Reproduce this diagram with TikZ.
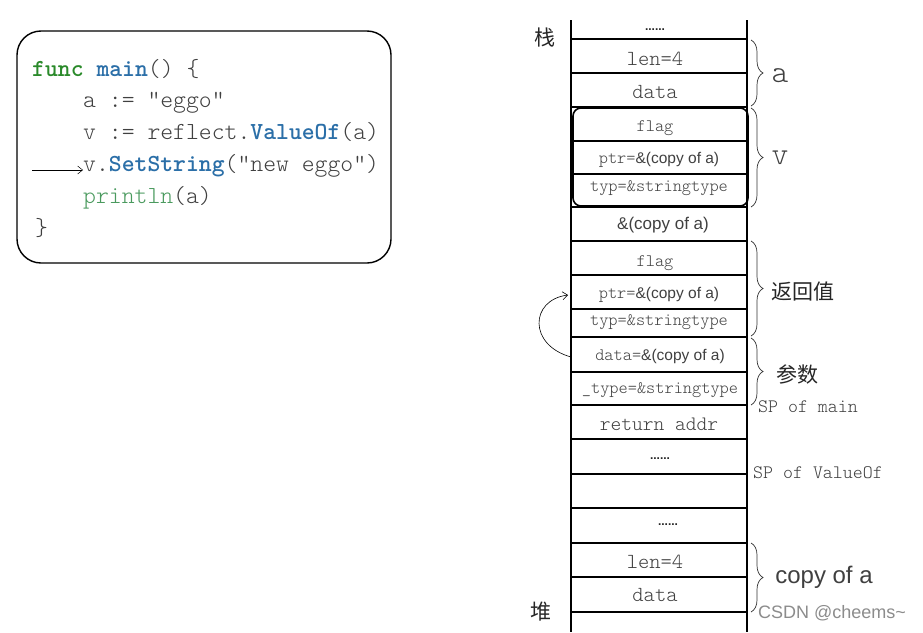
\documentclass[tikz,border=0pt]{standalone}
\usepackage{fontspec}
\setmonofont{Latin Modern Mono Light}
\setsansfont{Liberation Sans}
\newfontfamily\cjk{Noto Sans CJK SC}
\usetikzlibrary{decorations.pathreplacing,arrows.meta}
\definecolor{kwgreen}{HTML}{2A8A2A}
\definecolor{fnblue}{HTML}{2B6FA8}
\definecolor{pgreen}{HTML}{4A9A5E}
\definecolor{txt}{HTML}{404040}
\begin{document}
\begin{tikzpicture}[x=1pt,y=-1pt,
  codeline/.style={anchor=mid west,inner sep=0pt,font=\fontsize{24.5}{24.5}\ttfamily,text=txt},
  cell/.style={inner sep=0pt,text=txt},
  big/.style={font=\fontsize{21.5}{21.5}\ttfamily},
  small/.style={font=\fontsize{17.5}{17.5}\ttfamily},
  dots/.style={inner sep=0pt,font=\bfseries\fontsize{12}{12}\sffamily,text=black!85},
  rbrace/.style={decorate,decoration={brace,amplitude=12pt,raise=1pt},line width=0.7pt,draw=black!80},
  side/.style={inner sep=0pt,text=txt},
  arr/.style={-{Straight Barb[length=5pt,width=8pt]},line width=0.6pt}
]
\useasboundingbox (0,0) rectangle (923,632);
\fill[white] (0,0) rectangle (923,632);
% code box
\draw[line width=1.4pt,rounded corners=24pt] (17,31) rectangle (391,263);
\node[codeline] (c1) at (32,74) {\textbf{\textcolor{kwgreen}{func}} \textbf{\textcolor{fnblue}{main}}() \{};
\node[codeline] (c2) at (83,105) {a := "eggo"};
\node[codeline] (c3) at (83,137) {v := reflect.\textbf{\textcolor{fnblue}{ValueOf}}(a)};
\node[codeline] (c4) at (83,169) {v.\textbf{\textcolor{fnblue}{SetString}}("new eggo")};
\node[codeline] (c5) at (83,201) {\textcolor{pgreen}{println}(a)};
\node[codeline] (c6) at (35,233) {\}};
\coordinate (ca) at (32,170);
\draw[arr,line width=0.5pt] (ca) -- (ca -| c4.west);
% stack
\draw[line width=1.2pt] (571,20) -- (571,632);
\draw[line width=1.2pt] (747,20) -- (747,632);
\foreach \yy in {39,73,107,141,174,207,241,275,309,337,372,405,439,474,508,543,577,612}
  \draw[line width=1.1pt] (571,\yy) -- (747,\yy);
\draw[line width=1.6pt,rounded corners=8pt,fill=none] (573,108) rectangle (748,206);
\node[dots] (d0) at (655,30) {......};
\node[cell,big] (s1) at (655,59) {len=4};
\node[cell,big] (s2) at (655,92) {data};
\node[cell,small] (s3) at (655,128) {flag};
\node[cell,small] (s4) at (659,160) {ptr=\sffamily\fontsize{15.5}{15.5}\selectfont\&(copy of a)};
\node[cell,small] (s5) at (659,188) {typ=\&stringtype};
\node[cell,font=\fontsize{17}{17}\sffamily] (s6) at (663,225) {\&(copy of a)};
\node[cell,small] (s7) at (655,263) {flag};
\node[cell,small] (s8) at (659,295) {ptr=\sffamily\fontsize{15.5}{15.5}\selectfont\&(copy of a)};
\node[cell,small] (s9) at (659,322) {typ=\&stringtype};
\node[cell,small] (s10) at (660,356) {data=\sffamily\fontsize{15.5}{15.5}\selectfont\&(copy of a)};
\node[cell,small] (s11) at (660,390) {\_type=\&stringtype};
\node[cell,font=\fontsize{20.5}{20.5}\ttfamily] (s12) at (659,424) {return addr};
\node[dots] (d1) at (660,459) {......};
\node[dots] (d2) at (668,525) {......};
\node[cell,big] (s13) at (655,562) {len=4};
\node[cell,big] (s14) at (655,595) {data};
% left labels
\node[side,font=\cjk\fontsize{21}{21}\selectfont,text=black!85] (zhan) at (545,38) {栈};
\node[side,font=\cjk\fontsize{21}{21}\selectfont,text=black!85] (dui) at (541,612) {堆};
% braces
\coordinate (ba1) at (750,40); \coordinate (ba2) at (750,106);
\coordinate (bv1) at (750,108); \coordinate (bv2) at (750,207);
\coordinate (br1) at (750,241); \coordinate (br2) at (750,336);
\coordinate (bp1) at (750,338); \coordinate (bp2) at (750,405);
\coordinate (bc1) at (750,543); \coordinate (bc2) at (750,612);
\draw[rbrace] (ba1) -- (ba2);
\draw[rbrace] (bv1) -- (bv2);
\draw[rbrace] (br1) -- (br2);
\draw[rbrace] (bp1) -- (bp2);
\draw[rbrace] (bc1) -- (bc2);
\node[side,font=\fontsize{32}{32}\ttfamily] (la) at (780,76) {a};
\node[side,font=\fontsize{32}{32}\ttfamily] (lv) at (780,158) {v};
\node[side,font=\cjk\fontsize{21}{21}\selectfont,text=black!85] (lr) at (803,292) {返回值};
\node[side,font=\cjk\fontsize{21}{21}\selectfont,text=black!85] (lp) at (797,374) {参数};
\node[side,font=\fontsize{19}{19}\ttfamily] (spm) at (808,407) {SP of main};
\node[side,font=\fontsize{19}{19}\ttfamily] (spv) at (818,473) {SP of ValueOf};
\node[side,font=\fontsize{24}{24}\sffamily] (lc) at (824,577) {copy of a};
\node[side,font=\fontsize{18}{18}\sffamily,text=black!45] (csdn) at (832,613) {CSDN @cheems\textasciitilde};
% curved arrow
\coordinate (ast) at (571,357);
\coordinate (aen) at (568,295);
\draw[arr] (ast) .. controls (528,345) and (530,300) .. (aen);
\end{tikzpicture}
\end{document}
